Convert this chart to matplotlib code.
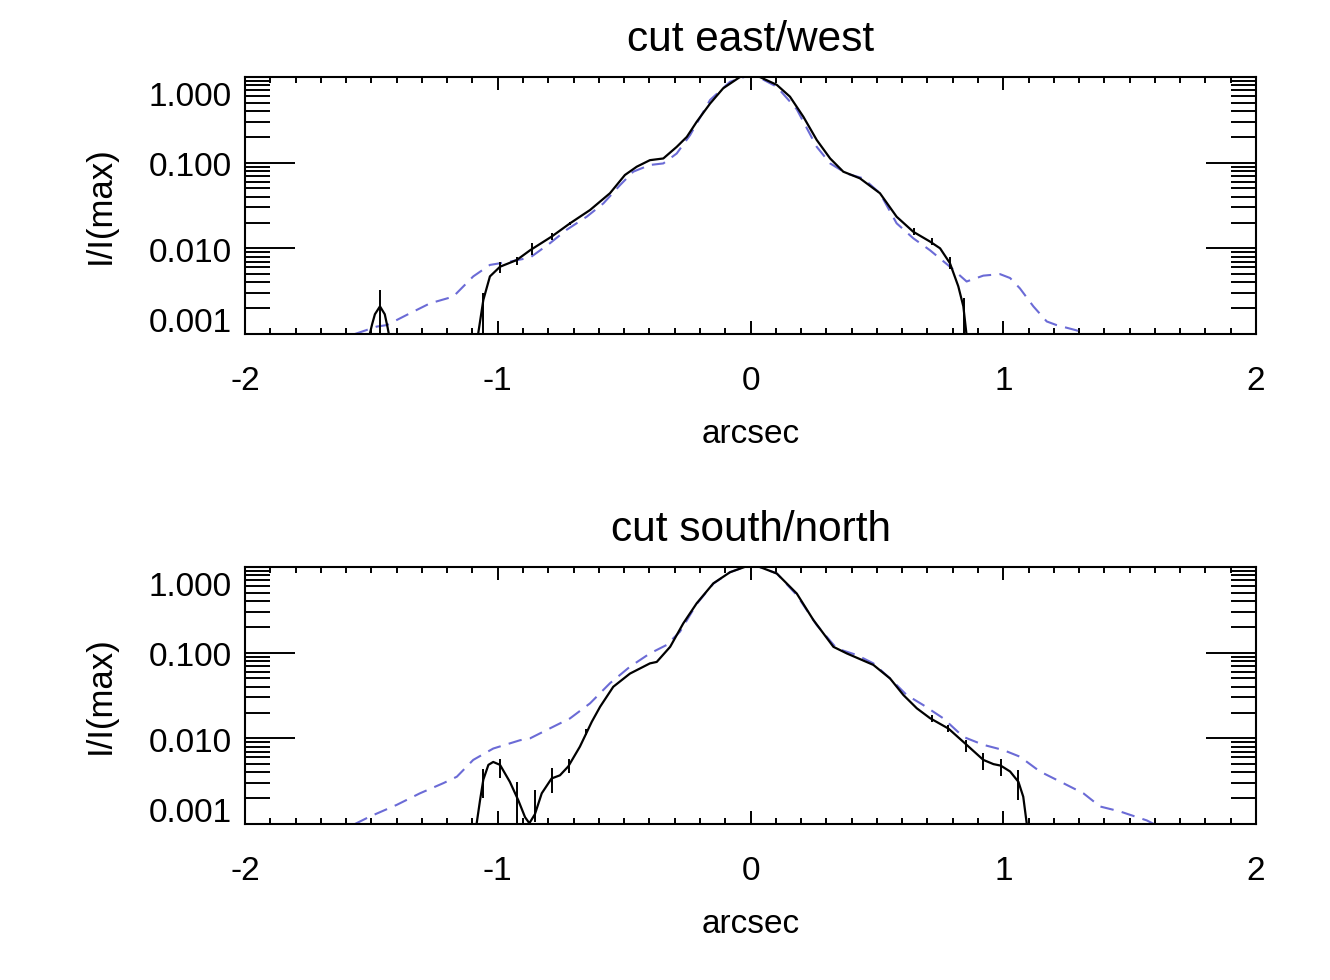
import numpy as np
import matplotlib
matplotlib.use("Agg")
import matplotlib.pyplot as plt
from matplotlib.ticker import FixedLocator, NullFormatter
from matplotlib.transforms import offset_copy

plt.rcParams['font.family'] = ['Liberation Sans', 'DejaVu Sans']

# --- cut east/west ---
ew_obs_x = [-1.08, -1.057, -1.031, -0.991, -0.925, -0.872, -0.787, -0.714, -0.635, -0.556,
            -0.497, -0.450, -0.398, -0.345, -0.292, -0.252, -0.213, -0.160, -0.108, -0.042,
            0.0, 0.037, 0.104, 0.156, 0.209, 0.262, 0.315, 0.367, 0.433, 0.512,
            0.578, 0.644, 0.710, 0.750, 0.789, 0.822, 0.842, 0.856]
ew_obs_y = [0.0009, 0.0025, 0.0047, 0.0061, 0.0073, 0.0095, 0.0137, 0.0196, 0.028, 0.044,
            0.0718, 0.0898, 0.107, 0.112, 0.153, 0.20, 0.30, 0.49, 0.74, 1.0,
            1.06, 1.0, 0.81, 0.59, 0.344, 0.184, 0.112, 0.0785, 0.0656, 0.044,
            0.0234, 0.0156, 0.012, 0.010, 0.0067, 0.0036, 0.0021, 0.0009]
ew_bump_x = [-1.51, -1.497, -1.486, -1.466, -1.447, -1.436, -1.428]
ew_bump_y = [0.0009, 0.0013, 0.0017, 0.0021, 0.0017, 0.0012, 0.0009]
ew_ref_x = [-1.565, -1.479, -1.439, -1.360, -1.268, -1.176, -1.097, -1.031, -0.952, -0.872,
            -0.793, -0.727, -0.648, -0.582, -0.516, -0.464, -0.398, -0.345, -0.292, -0.239,
            -0.160, -0.081, 0.0, 0.051, 0.104, 0.183, 0.262, 0.315, 0.381, 0.446,
            0.512, 0.578, 0.644, 0.710, 0.789, 0.855, 0.921, 0.987, 1.027, 1.066,
            1.119, 1.172, 1.211, 1.291, 1.33]
ew_ref_y = [0.001, 0.00122, 0.00127, 0.00167, 0.00228, 0.00273, 0.0047, 0.0064, 0.0070, 0.0078,
            0.0115, 0.0165, 0.0234, 0.0335, 0.0548, 0.0785, 0.094, 0.098, 0.128, 0.21,
            0.54, 0.88, 1.06, 0.93, 0.77, 0.42, 0.153, 0.098, 0.0745, 0.0656,
            0.044, 0.0196, 0.0131, 0.0095, 0.0061, 0.0041, 0.0048, 0.0050, 0.0045, 0.0034,
            0.0021, 0.0014, 0.00127, 0.0011, 0.00095]
ew_err_x = [-1.466, -1.06, -0.99, -0.925, -0.865, -0.787, -0.714, 0.647, 0.717, 0.789, 0.845]
ew_err_lo = [0.0009, 0.0009, 0.0051, 0.0064, 0.0084, 0.0125, 0.0185, 0.0143, 0.0109, 0.0058, 0.0009]
ew_err_hi = [0.0033, 0.0030, 0.0070, 0.0080, 0.0115, 0.0150, 0.0205, 0.0171, 0.0131, 0.0080, 0.0026]

# --- cut south/north ---
sn_obs_x = [-1.086, -1.070, -1.057, -1.037, -1.018, -0.991, -0.952, -0.919, -0.892, -0.875,
            -0.853, -0.826, -0.787, -0.754, -0.721, -0.675, -0.628, -0.595, -0.543, -0.477,
            -0.398, -0.371, -0.318, -0.266, -0.213, -0.147, -0.081, 0.0, 0.037, 0.104,
            0.183, 0.249, 0.328, 0.381, 0.486, 0.552, 0.605, 0.658, 0.710, 0.783,
            0.855, 0.921, 0.961, 0.990, 1.027, 1.060, 1.079, 1.095]
sn_obs_y = [0.0009, 0.0019, 0.0033, 0.0049, 0.0053, 0.0049, 0.0031, 0.0019, 0.0012, 0.00102,
            0.0013, 0.00228, 0.0034, 0.0037, 0.0047, 0.008, 0.0156, 0.0234, 0.040, 0.057,
            0.075, 0.078, 0.117, 0.22, 0.377, 0.645, 0.87, 1.06, 1.0, 0.84,
            0.49, 0.24, 0.117, 0.098, 0.072, 0.050, 0.032, 0.0224, 0.0172, 0.013,
            0.0084, 0.0056, 0.0050, 0.0048, 0.0041, 0.0031, 0.00208, 0.0009]
sn_ref_x = [-1.565, -1.506, -1.40, -1.308, -1.215, -1.162, -1.097, -1.018, -0.912, -0.872,
            -0.793, -0.714, -0.635, -0.556, -0.477, -0.398, -0.332, -0.279, -0.213, -0.147,
            -0.081, 0.0, 0.037, 0.104, 0.183, 0.262, 0.341, 0.420, 0.486, 0.552,
            0.618, 0.683, 0.763, 0.842, 0.921, 1.0, 1.066, 1.145, 1.237, 1.317,
            1.383, 1.462, 1.568, 1.61]
sn_ref_y = [0.001, 0.00122, 0.00167, 0.00228, 0.003, 0.00356, 0.0056, 0.0076, 0.0095, 0.010,
            0.0131, 0.0171, 0.0256, 0.044, 0.0686, 0.098, 0.123, 0.176, 0.37, 0.64,
            0.87, 1.06, 1.0, 0.84, 0.47, 0.21, 0.112, 0.094, 0.075, 0.050,
            0.032, 0.0245, 0.0171, 0.0104, 0.0084, 0.0073, 0.0061, 0.0041, 0.003, 0.00228,
            0.0016, 0.0014, 0.0011, 0.00095]
sn_err_x = [-1.057, -0.990, -0.923, -0.852, -0.785, -0.718, -0.649, 0.717, 0.783, 0.854, 0.921, 0.990, 1.060]
sn_err_lo = [0.0020, 0.0034, 0.0009, 0.00106, 0.0023, 0.0039, 0.0109, 0.0157, 0.0119, 0.0070, 0.0043, 0.0036, 0.0019]
sn_err_hi = [0.0044, 0.0057, 0.0031, 0.0025, 0.0045, 0.0058, 0.0130, 0.0188, 0.0143, 0.0095, 0.0067, 0.0058, 0.0043]

titles = ["cut east/west", "cut south/north"]
ytick_vals = [1.0, 0.1, 0.01, 0.001]
ytick_text = ["1.000", "0.100", "0.010", "0.001"]
xtick_vals = [-2, -1, 0, 1, 2]

blue = "#6b6bd6"
fig = plt.figure(figsize=(13.3, 9.8), dpi=100)
axes = [fig.add_axes([0.1842, 0.6592, 0.7602, 0.2622]),
        fig.add_axes([0.1842, 0.1592, 0.7602, 0.2622])]

panels = [
    (ew_ref_x, ew_ref_y, [(ew_obs_x, ew_obs_y), (ew_bump_x, ew_bump_y)], ew_err_x, ew_err_lo, ew_err_hi),
    (sn_ref_x, sn_ref_y, [(sn_obs_x, sn_obs_y)], sn_err_x, sn_err_lo, sn_err_hi),
]

for ax, title, (rx, ry, segs, ex, elo, ehi) in zip(axes, titles, panels):
    ax.plot(rx, ry, color=blue, lw=1.5, dashes=(6.5, 4))
    for sx, sy in segs:
        ax.plot(sx, sy, color="black", lw=1.6)
    ax.vlines(ex, elo, ehi, color="black", lw=1.4)

    ax.set_yscale("log")
    ax.set_xlim(-2, 2)
    ax.set_ylim(0.001, 1.0)

    ax.xaxis.set_major_locator(FixedLocator(xtick_vals))
    ax.xaxis.set_minor_locator(FixedLocator(np.arange(-20, 21) / 10))
    ax.set_xticklabels([str(v) for v in xtick_vals])
    ax.yaxis.set_major_locator(FixedLocator(ytick_vals))
    minor_y = [m * 10.0 ** d for d in range(-3, 0) for m in range(2, 10)]
    ax.yaxis.set_minor_locator(FixedLocator(minor_y))
    ax.yaxis.set_major_formatter(NullFormatter())
    ax.yaxis.set_minor_formatter(NullFormatter())

    ax.tick_params(axis="x", which="major", direction="in", length=9.5, width=1.4,
                   top=True, labelsize=24, pad=23)
    ax.tick_params(axis="x", which="minor", direction="in", length=4.5, width=1.4, top=True)
    ax.tick_params(axis="y", which="major", direction="in", length=36, width=1.4, right=True)
    ax.tick_params(axis="y", which="minor", direction="in", length=18, width=1.4, right=True)
    for sp in ax.spines.values():
        sp.set_linewidth(1.5)

    ytr = offset_copy(ax.get_yaxis_transform(), fig=fig, y=-5, units="dots")
    for v, t in zip(ytick_vals, ytick_text):
        va = "top" if v == 1.0 else ("bottom" if v == 0.001 else "center")
        ax.text(-0.013, v, t, transform=ytr, ha="right", va=va, fontsize=24)

    ax.text(0.5, 1.145, title, transform=ax.transAxes, ha="center", va="center", fontsize=30.5)
    ax.text(0.5, -0.39, "arcsec", transform=ax.transAxes, ha="center", va="center", fontsize=24)
    ax.text(-0.1434, 0.5, "I/I(max)", transform=ax.transAxes, ha="center", va="center",
            rotation=90, fontsize=25)

fig.savefig("out.png", dpi=100)
